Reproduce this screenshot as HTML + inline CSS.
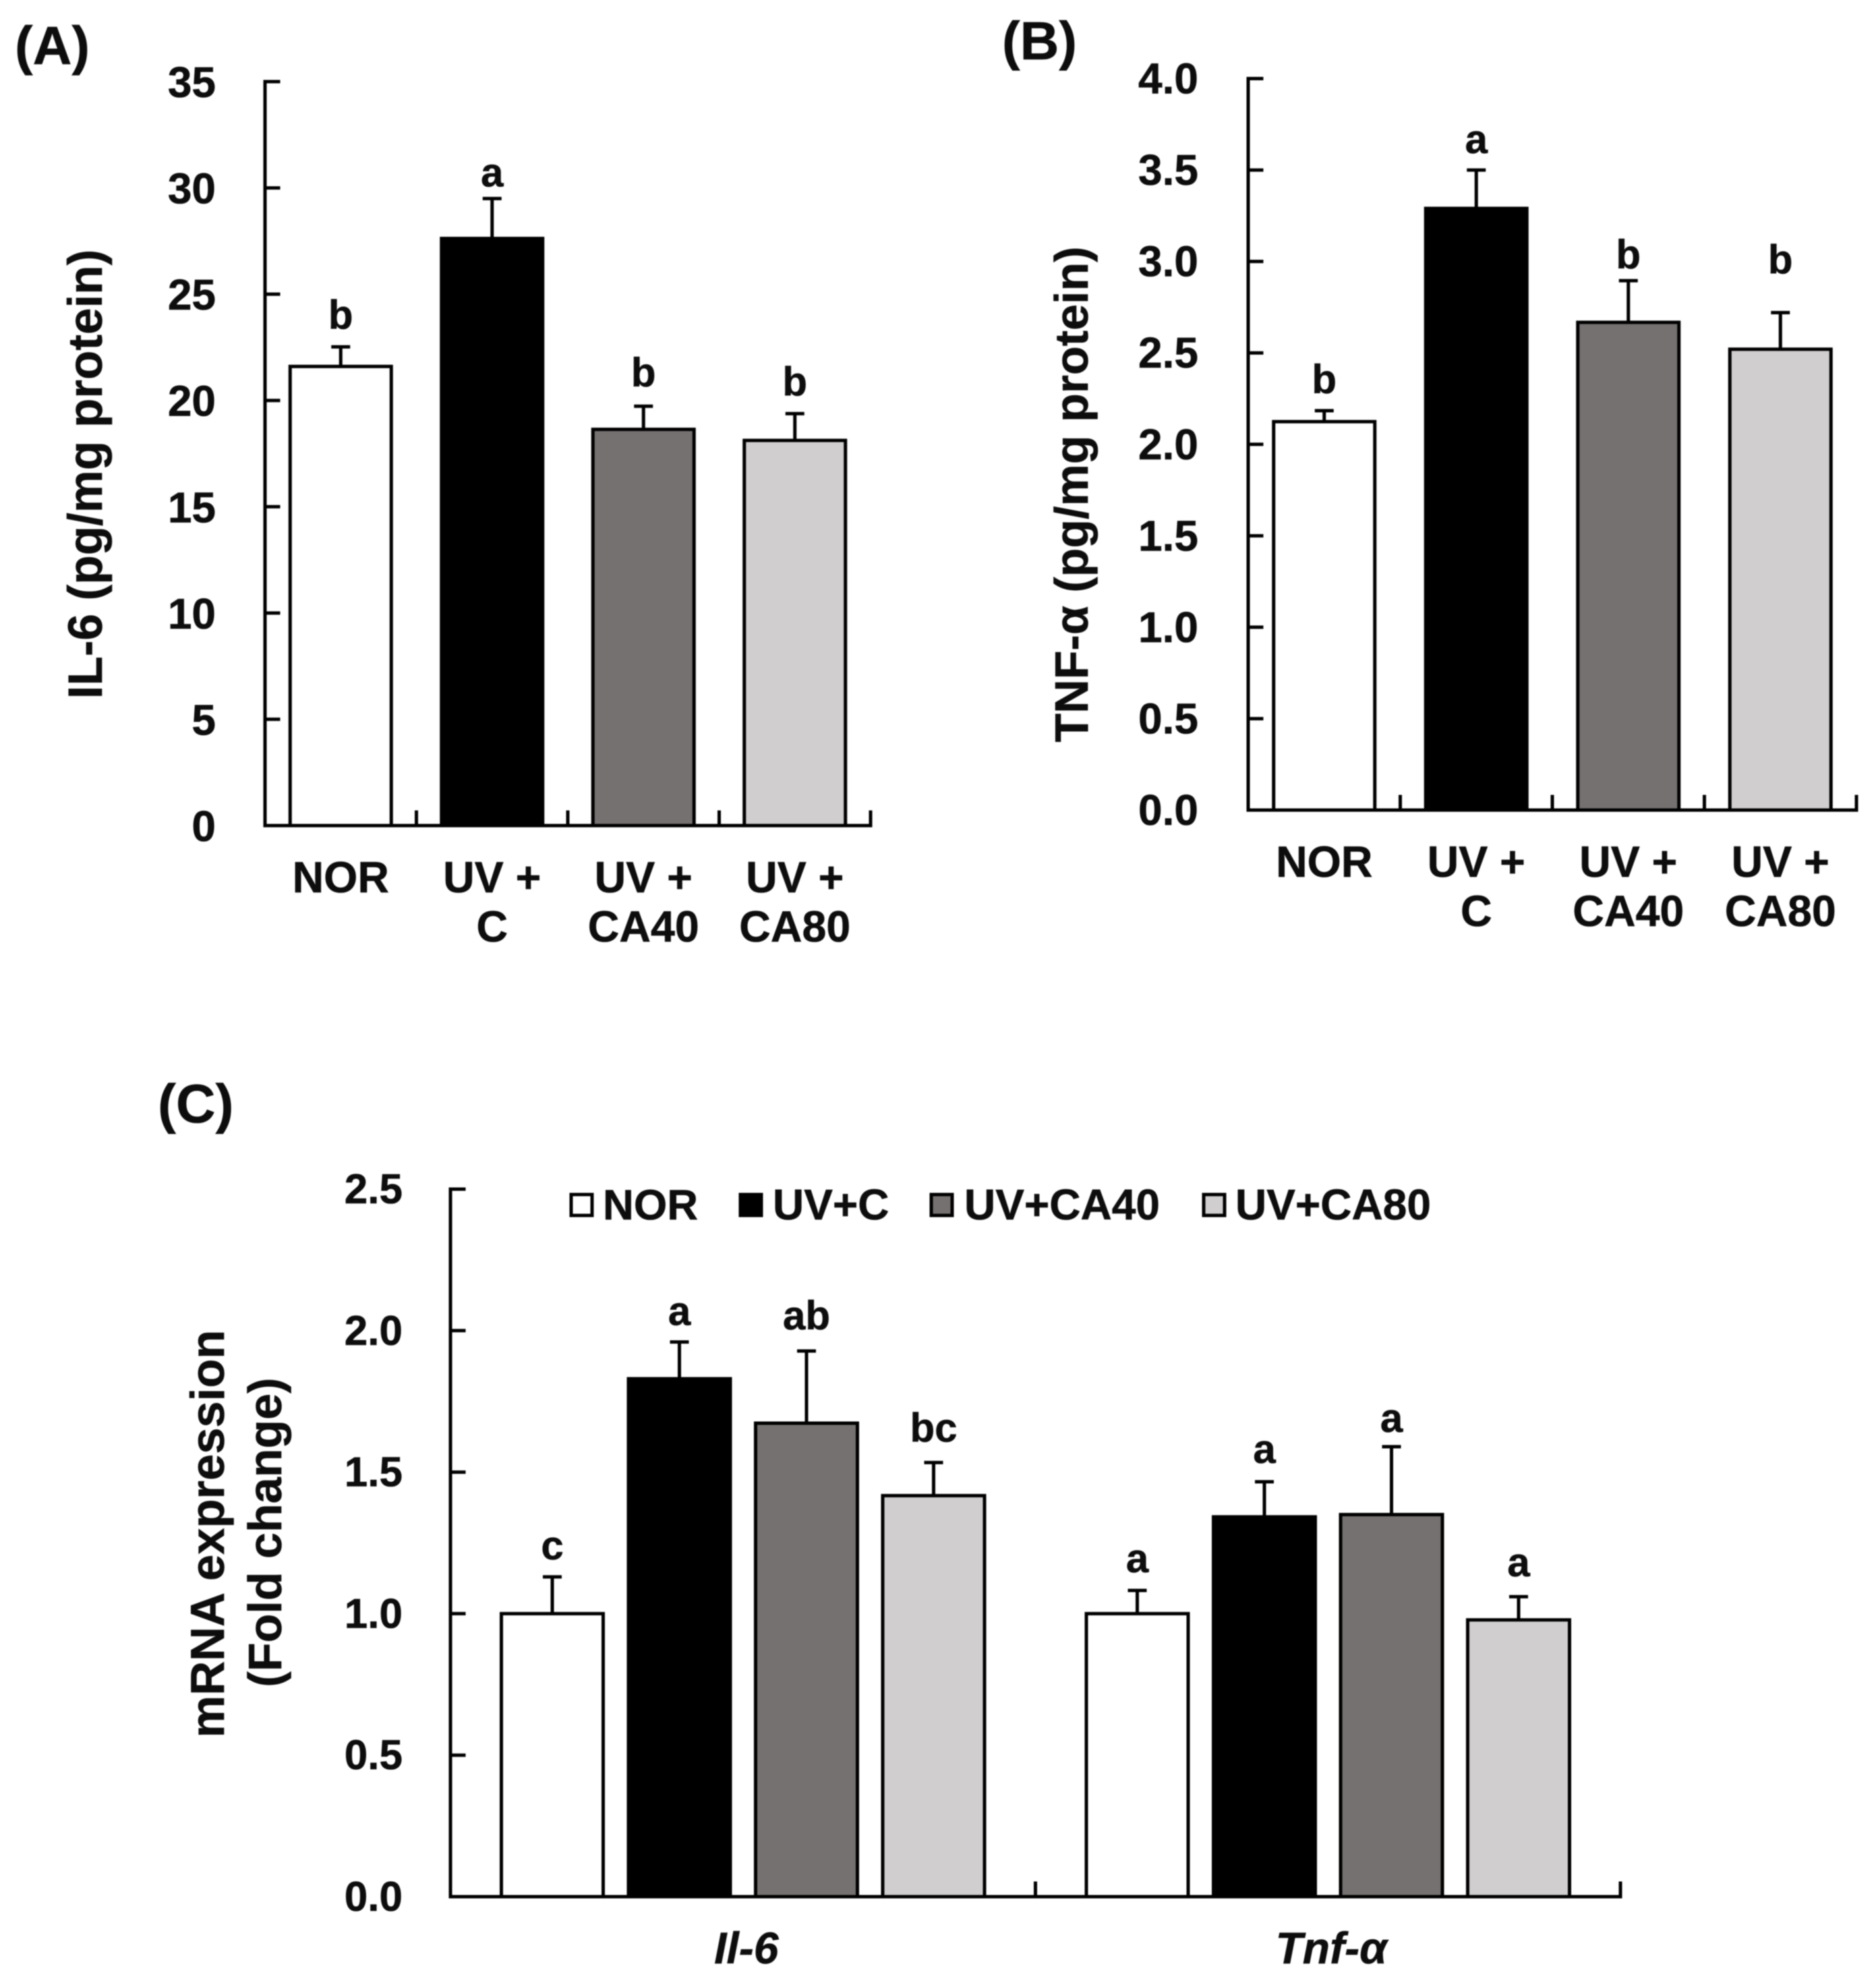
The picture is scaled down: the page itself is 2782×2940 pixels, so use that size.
<!DOCTYPE html>
<html lang="en">
<head>
<meta charset="utf-8">
<title>IL-6 and TNF-α levels and mRNA expression</title>
<style>
  html, body { margin: 0; padding: 0; background: #fff; }
  svg { display: block; filter: blur(0.7px); }
  text { font-family: "Liberation Sans", sans-serif; font-weight: bold; fill: #0d0d0d; stroke: #0d0d0d; stroke-width: 0.6px; }
</style>
</head>
<body>
<svg id="figure" xmlns="http://www.w3.org/2000/svg" width="2782" height="2940" viewBox="0 0 2782 2940">
  <rect x="0" y="0" width="2782" height="2940" fill="#fff"/>
  <text x="22" y="95" font-size="80">(A)</text>
  <text x="1486" y="88" font-size="80">(B)</text>
  <text x="234" y="1664" font-size="81">(C)</text>
  <text transform="translate(151 703) rotate(-90)" text-anchor="middle" font-size="71">IL-6 (pg/mg protein)</text>
  <text transform="translate(1613 733) rotate(-90)" text-anchor="middle" font-size="70">TNF-α (pg/mg protein)</text>
  <text transform="translate(332 2274) rotate(-90)" text-anchor="middle" font-size="70.5">mRNA expression</text>
  <text transform="translate(417 2272) rotate(-90)" text-anchor="middle" font-size="70">(Fold change)</text>
  <g>
    <rect x="847" y="1771" width="31" height="31" fill="#ffffff" stroke="#000" stroke-width="5"/>
    <text x="894" y="1808" font-size="63.5">NOR</text>
    <rect x="1098" y="1771" width="31" height="31" fill="#000000" stroke="#000" stroke-width="5"/>
    <text x="1146" y="1808" font-size="64">UV+C</text>
    <rect x="1381" y="1771" width="31" height="31" fill="#767171" stroke="#000" stroke-width="5"/>
    <text x="1430" y="1808" font-size="64">UV+CA40</text>
    <rect x="1785" y="1771" width="31" height="31" fill="#d0cece" stroke="#000" stroke-width="5"/>
    <text x="1832" y="1808" font-size="64">UV+CA80</text>
  </g>
</svg>
<script>
// Panel A data
const panelATicks = ["0", "5", "10", "15", "20", "25", "30", "35"];
const panelACategories = [["NOR"], ["UV +", "C"], ["UV +", "CA40"], ["UV +", "CA80"]];
const panelAValues = [21.6, 27.62, 18.64, 18.12];
const panelAErrors = [0.92, 1.88, 1.09, 1.26];
const panelALetters = ["b", "a", "b", "b"];

// Panel B data
const panelBTicks = ["0.0", "0.5", "1.0", "1.5", "2.0", "2.5", "3.0", "3.5", "4.0"];
const panelBCategories = [["NOR"], ["UV +", "C"], ["UV +", "CA40"], ["UV +", "CA80"]];
const panelBValues = [2.124, 3.29, 2.667, 2.52];
const panelBErrors = [0.06, 0.21, 0.228, 0.2];
const panelBLetters = ["b", "a", "b", "b"];

// Panel C data
const panelCTicks = ["0.0", "0.5", "1.0", "1.5", "2.0", "2.5"];
const panelCGenes = ["Il-6", "Tnf-α"];
const il6Values = [1.0, 1.83, 1.673, 1.417];
const il6Errors = [0.13, 0.13, 0.255, 0.117];
const il6Letters = ["c", "a", "ab", "bc"];
const tnfValues = [1.0, 1.342, 1.35, 0.978];
const tnfErrors = [0.082, 0.124, 0.24, 0.082];
const tnfLetters = ["a", "a", "a", "a"];

// Series colours, in draw order
const seriesNames = ["nor", "uv-c", "uv-ca40", "uv-ca80"];
const seriesFills = ["#ffffff", "#000000", "#767171", "#d0cece"];

// Layout: gap between error cap and letter baseline
const gapsA = [27, 18, 29, 27];
const gapsB = [26, 25, 18, 58];
const gapsIl6 = [26, 25, 32, 31];
const gapsTnf = [27, 28, 22, 30];

const SVG_NS = "http://www.w3.org/2000/svg";
const root = document.getElementById("figure");

function add(tag, attrs, parent, content) {
  const el = document.createElementNS(SVG_NS, tag);
  for (const k in attrs) el.setAttribute(k, attrs[k]);
  if (content !== undefined) el.textContent = content;
  parent.appendChild(el);
  return el;
}

function line(x1, y1, x2, y2, parent) {
  return add("line", { x1: x1, y1: y1, x2: x2, y2: y2, stroke: "#000", "stroke-width": 5, "stroke-linecap": "square" }, parent);
}

function drawAxes(id, box, ticks, xTickCount, tickFont, tickRight, tickDrop) {
  const y = (v) => box.y0 - (v / box.max) * (box.y0 - box.y1);
  const g = add("g", {}, root);
  
  

  const yAxis = line(box.x0, box.y1, box.x0, box.y0, g);
  
  

  const xAxis = line(box.x0, box.y0, box.x1, box.y0, g);
  
  

  ticks.forEach((label) => {
    const v = parseFloat(label);
    const t = line(box.x0, y(v), box.x0 + 20, y(v), g);
    
    

    const txt = add("text", { x: tickRight, y: y(v) + tickDrop, "text-anchor": "end", "font-size": tickFont }, g, label);
    
    
  });

  const step = (box.x1 - box.x0) / xTickCount;
  for (let i = 1; i <= xTickCount; i++) {
    const tx = box.x0 + step * i;
    const t = line(tx, box.y0, tx, box.y0 - 20, g);
    
    
  }
  return y;
}

function drawBar(id, idx, cx, width, value, err, letter, gap, y, baseY, letterFont) {
  const g = add("g", {}, root);
  
  

  const top = y(value);
  const capY = y(value + err);

  const stem = add("line", { x1: cx, y1: top, x2: cx, y2: capY, stroke: "#000", "stroke-width": 5 }, g);
  
  

  const cap = add("line", { x1: cx - 14, y1: capY, x2: cx + 14, y2: capY, stroke: "#000", "stroke-width": 5 }, g);
  
  

  const bar = add("rect", { x: cx - width / 2, y: top, width: width, height: baseY - top, fill: seriesFills[idx], stroke: "#000", "stroke-width": 5 }, g);
  
  

  const lab = add("text", { x: cx, y: capY - gap, "text-anchor": "middle", "font-size": letterFont }, g, letter);
  
  
}

function drawSinglePanel(id, box, ticks, categories, values, errors, letters, gaps, tickRight, tickDrop, catBase) {
  const y = drawAxes(id, box, ticks, categories.length, 64, tickRight, tickDrop);
  const step = (box.x1 - box.x0) / categories.length;
  categories.forEach((lines, i) => {
    const cx = box.x0 + step * (i + 0.5);
    drawBar(id + "-bar", i, cx, 150, values[i], errors[i], letters[i], gaps[i], y, box.y0, 60);
    lines.forEach((s, j) => {
      const t = add("text", { x: cx, y: catBase + j * 73, "text-anchor": "middle", "font-size": 64.5 }, root, s);
      
      
    });
  });
}

drawSinglePanel("panel-a", { x0: 393, x1: 1291, y0: 1224, y1: 121, max: 35 },
  panelATicks, panelACategories, panelAValues, panelAErrors, panelALetters, gapsA, 320, 23, 1323);

drawSinglePanel("panel-b", { x0: 1851, x1: 2753, y0: 1201, y1: 116.5, max: 4 },
  panelBTicks, panelBCategories, panelBValues, panelBErrors, panelBLetters, gapsB, 1777, 22, 1300);

// Panel C: grouped bars
const boxC = { x0: 668, x1: 2403, y0: 2812, y1: 1763, max: 2.5 };
const yC = drawAxes("panel-c", boxC, panelCTicks, panelCGenes.length, 62, 597, 21);
const groupStep = (boxC.x1 - boxC.x0) / panelCGenes.length;
const groupSeries = [
  [il6Values, il6Errors, il6Letters, gapsIl6],
  [tnfValues, tnfErrors, tnfLetters, gapsTnf]
];
panelCGenes.forEach((gene, g) => {
  const center = boxC.x0 + groupStep * (g + 0.5);
  const [vals, errs, lets, gaps] = groupSeries[g];
  vals.forEach((v, i) => {
    drawBar("panel-c-bar-" + (g === 0 ? "il6" : "tnf"), i, center + (i - 1.5) * 188.5, 151, v, errs[i], lets[i], gaps[i], yC, boxC.y0, 60);
  });
  const t = add("text", { x: center + 5, y: 2911, "text-anchor": "middle", "font-size": 66, "font-style": "italic" }, root, gene);
  
  
});
</script>
</body>
</html>
